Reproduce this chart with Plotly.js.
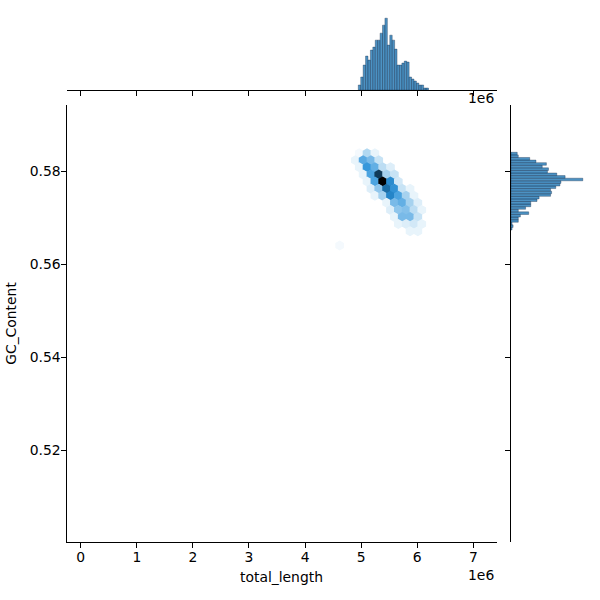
<!DOCTYPE html>
<html><head><meta charset="utf-8">
<script src="https://cdn.plot.ly/plotly-3.0.1.min.js"></script>
<style>html,body{margin:0;padding:0;background:#fff}#chart{width:600px;height:600px}</style>
</head><body><div id="chart"></div>
<script>
// ---- hexbin cells (centre total_length, centre GC_Content, count) ----
const hexLength = [
  4.965e6, 5.104e6, 5.244e6,
  4.895e6, 5.034e6, 5.174e6, 5.313e6,
  4.965e6, 5.104e6, 5.244e6, 5.383e6, 5.522e6,
  5.034e6, 5.174e6, 5.313e6, 5.453e6, 5.592e6,
  5.104e6, 5.244e6, 5.383e6, 5.522e6, 5.662e6,
  5.174e6, 5.313e6, 5.453e6, 5.592e6, 5.731e6, 5.871e6,
  5.244e6, 5.383e6, 5.522e6, 5.662e6, 5.801e6, 5.941e6,
  5.453e6, 5.592e6, 5.731e6, 5.871e6, 6.010e6,
  5.522e6, 5.662e6, 5.801e6, 5.941e6, 6.080e6,
  5.592e6, 5.731e6, 5.871e6, 6.010e6,
  5.662e6, 5.801e6, 5.941e6, 6.080e6,
  5.871e6, 6.010e6,
  4.616e6
];
const hexGC = [
  0.58384, 0.58384, 0.58384,
  0.58232, 0.58232, 0.58232, 0.58232,
  0.58079, 0.58079, 0.58079, 0.58079, 0.58079,
  0.57926, 0.57926, 0.57926, 0.57926, 0.57926,
  0.57774, 0.57774, 0.57774, 0.57774, 0.57774,
  0.57621, 0.57621, 0.57621, 0.57621, 0.57621, 0.57621,
  0.57469, 0.57469, 0.57469, 0.57469, 0.57469, 0.57469,
  0.57316, 0.57316, 0.57316, 0.57316, 0.57316,
  0.57163, 0.57163, 0.57163, 0.57163, 0.57163,
  0.57011, 0.57011, 0.57011, 0.57011,
  0.56858, 0.56858, 0.56858, 0.56858,
  0.56706, 0.56706,
  0.56400
];
const hexCount = [
  2, 8, 3,
  3, 16, 13, 6,
  3, 19, 15, 7, 4,
  3, 17, 32, 9, 6,
  3, 17, 40, 21, 5,
  4, 11, 25, 20, 6, 3,
  3, 9, 22, 17, 9, 3,
  3, 13, 15, 9, 4,
  4, 11, 12, 7, 3,
  3, 13, 13, 6,
  3, 4, 5, 3,
  3, 3,
  2
];

// ---- marginal histogram of total_length ----
const lengthBinStart = 4.9487e6;
const lengthBinWidth = 0.04314e6;
const lengthCounts = [5,13,25,34,30,40,43,50,50,57,65,72,45,55,50,41,25,25,27,29,28,13,11,9,7,5,5,2,2];

// ---- marginal histogram of GC_Content (from low to high) ----
const gcBinStart = 0.567312;
const gcBinWidth = 0.000557;
const gcCounts = [1,2,1,7,7,9,17,7,14,19,19,25,27,38,39,38,43,47,48,69,52,44,35,36,30,34,24,18,7,6];

// ---- ticks ----
const xTickVals = [0, 1e6, 2e6, 3e6, 4e6, 5e6, 6e6, 7e6];
const xTickText = ['0','1','2','3','4','5','6','7'];
const yTickVals = [0.52, 0.54, 0.56, 0.58];
const yTickText = ['0.52','0.54','0.56','0.58'];

// ---- helpers ----
function hslToRgb(h, s, l) {
  function f(n) {
    const k = (n + h / 30) % 12;
    const a = s * Math.min(l, 1 - l);
    return l - a * Math.max(-1, Math.min(k - 3, 9 - k, 1));
  }
  return 'rgb(' + Math.round(f(0)*255) + ',' + Math.round(f(8)*255) + ',' + Math.round(f(4)*255) + ')';
}
const nStops = 12;
const hexScale = [];
for (let k = 0; k < nStops; k++) {
  const l = 1 - k / (nStops - 1);
  hexScale.push([k / (nStops - 1), hslToRgb(204.6, 0.706, l)]);
}

const W = 600, H = 600;
const px = v => v / W;
const py = v => 1 - v / H;

const xRange = [-0.2531e6, 7.4122e6];
const yRange = [0.500215, 0.594194];

const lengthCenters = lengthCounts.map((_, i) => lengthBinStart + (i + 0.5) * lengthBinWidth);
const gcCenters = gcCounts.map((_, i) => gcBinStart + (i + 0.5) * gcBinWidth);

const font = {family: 'DejaVu Sans, sans-serif', size: 13.9, color: '#000'};
const barColor = 'rgba(31,119,180,0.8)';

const traces = [
  {
    type: 'scatter', mode: 'markers', x: hexLength, y: hexGC, xaxis: 'x', yaxis: 'y',
    marker: {symbol: 'hexagon', size: 10, color: hexCount, colorscale: hexScale,
             cmin: 1, cmax: Math.max(...hexCount), line: {width: 0}, showscale: false},
    hoverinfo: 'x+y+text', text: hexCount.map(String), showlegend: false
  },
  {
    type: 'bar', x: lengthCenters, y: lengthCounts, width: lengthBinWidth,
    xaxis: 'x2', yaxis: 'y2', showlegend: false,
    marker: {color: barColor, line: {color: 'rgba(20,40,70,0.7)', width: 0.5}}
  },
  {
    type: 'bar', orientation: 'h', y: gcCenters, x: gcCounts, width: gcBinWidth,
    xaxis: 'x3', yaxis: 'y3', showlegend: false,
    marker: {color: barColor, line: {color: 'rgba(20,40,70,0.7)', width: 0.5}}
  }
];

const axisLine = {showline: true, linecolor: '#000', linewidth: 1, ticks: 'outside',
  ticklen: 5, tickwidth: 1, tickcolor: '#000', showgrid: false, zeroline: false};

const layout = {
  width: W, height: H, margin: {l: 0, r: 0, t: 0, b: 0},
  paper_bgcolor: '#fff', plot_bgcolor: '#fff', font: font, showlegend: false,
  bargap: 0,
  xaxis: Object.assign({}, axisLine, {
    domain: [px(66.5), px(496.5)], anchor: 'y', range: xRange,
    tickmode: 'array', tickvals: xTickVals, ticktext: xTickText, tickfont: font,
    ticklabelstandoff: -3,
    title: {text: 'total_length', font: font, standoff: 8}
  }),
  yaxis: Object.assign({}, axisLine, {
    domain: [py(542), py(105)], anchor: 'x', range: yRange,
    tickmode: 'array', tickvals: yTickVals, ticktext: yTickText, tickfont: font,
    ticklabelstandoff: -3,
    title: {text: 'GC_Content', font: font, standoff: 9}
  }),
  xaxis2: Object.assign({}, axisLine, {
    domain: [px(66.5), px(496.5)], anchor: 'y2', range: xRange,
    tickmode: 'array', tickvals: xTickVals, showticklabels: false
  }),
  yaxis2: {domain: [py(90), py(14.6)], anchor: 'x2',
    range: [0, Math.max(...lengthCounts) * 1.05],
    showline: false, showticklabels: false, ticks: '', showgrid: false, zeroline: false},
  xaxis3: {domain: [px(511), px(586.4)], anchor: 'y3',
    range: [0, Math.max(...gcCounts) * 1.05],
    showline: false, showticklabels: false, ticks: '', showgrid: false, zeroline: false},
  yaxis3: Object.assign({}, axisLine, {
    domain: [py(542), py(105)], anchor: 'x3', range: yRange,
    tickmode: 'array', tickvals: yTickVals, showticklabels: false
  }),
  annotations: [
    {xref: 'paper', yref: 'paper', x: px(496), y: py(575), xanchor: 'right', yanchor: 'middle',
     text: '1e6', showarrow: false, font: font},
    {xref: 'paper', yref: 'paper', x: px(496), y: py(98), xanchor: 'right', yanchor: 'middle',
     text: '1e6', showarrow: false, font: font}
  ]
};

Plotly.newPlot('chart', traces, layout, {displayModeBar: false, staticPlot: true});
</script>
</body></html>
